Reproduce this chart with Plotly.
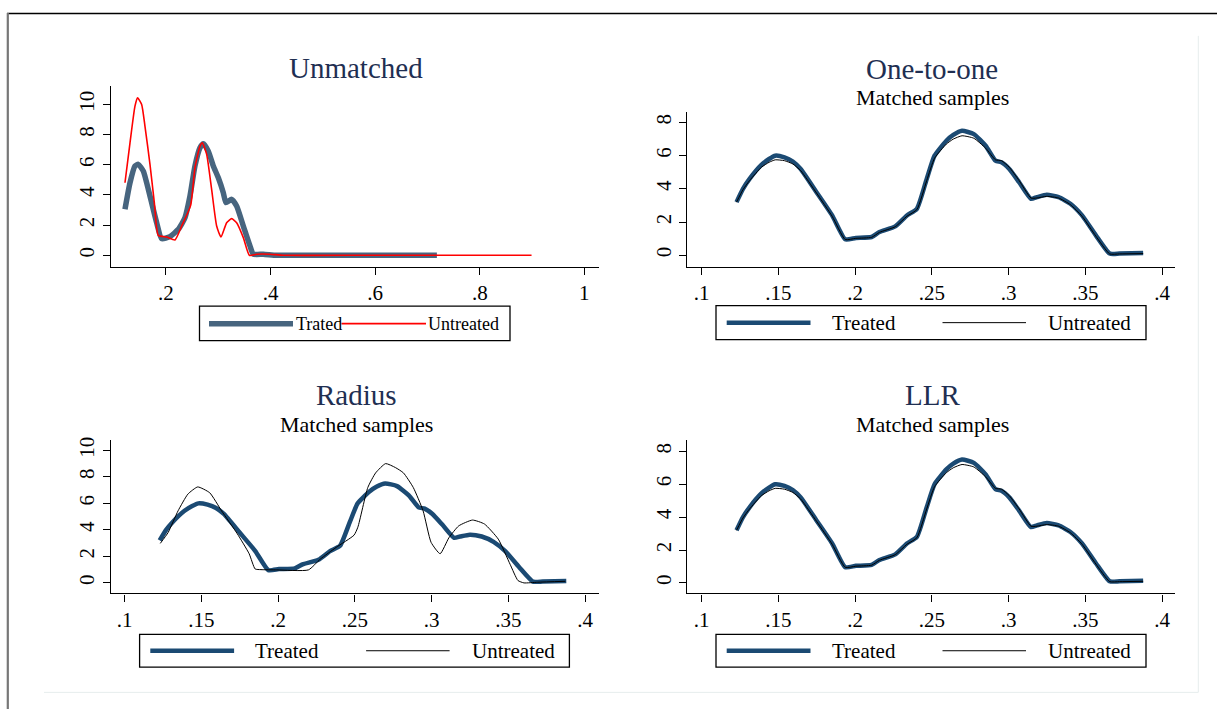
import plotly.graph_objects as go

W, H = 1217, 709

# ---------------- data ----------------
# Unmatched panel
unm_treated_x = [0.1216, 0.1312, 0.1407, 0.1471, 0.1567, 0.1694, 0.1822, 0.1917, 0.2076, 0.2236,
                 0.2363, 0.2459, 0.2554, 0.2650, 0.2714, 0.2809, 0.2905, 0.3001, 0.3096, 0.3147,
                 0.3256, 0.3351, 0.3479, 0.3606, 0.3670, 0.3861, 0.4116, 0.5000, 0.6000, 0.7180]
unm_treated_y = [3.05, 4.81, 5.92, 6.03, 5.58, 3.93, 2.16, 1.10, 1.24, 1.72,
                 2.49, 3.93, 5.92, 7.13, 7.40, 6.91, 5.92, 5.14, 4.15, 3.49,
                 3.71, 3.27, 1.94, 0.62, 0.07, 0.07, 0.0, 0.0, 0.0, 0.0]
unm_untreated_x = [0.1216, 0.1312, 0.1407, 0.1458, 0.1535, 0.1598, 0.1694, 0.1777, 0.1853, 0.2013,
                   0.2172, 0.2300, 0.2472, 0.2554, 0.2650, 0.2695, 0.2778, 0.2873, 0.2969, 0.3052,
                   0.3160, 0.3256, 0.3351, 0.3479, 0.3594, 0.3734, 0.3989, 0.4243, 0.6000, 0.8990]
unm_untreated_y = [4.81, 7.46, 9.89, 10.44, 10.0, 8.57, 6.03, 3.49, 1.32, 1.21,
                   1.02, 1.94, 3.31, 5.81, 7.24, 7.46, 6.69, 4.37, 1.94, 1.21,
                   2.16, 2.43, 2.16, 1.17, 0.0, 0.07, 0.07, 0.0, 0.0, 0.0]

# Matched samples: treated density (same in the three matched panels)
treated_x = [0.1228, 0.1270, 0.1313, 0.1390, 0.1440, 0.1480, 0.1540, 0.1595, 0.1646, 0.1749,
             0.1851, 0.1936, 0.2005, 0.2108, 0.2159, 0.2262, 0.2338, 0.2403, 0.2467, 0.2518,
             0.2595, 0.2640, 0.2697, 0.2774, 0.2851, 0.2915, 0.2954, 0.3005, 0.3069, 0.3146,
             0.3185, 0.3249, 0.3326, 0.3403, 0.3479, 0.3569, 0.3659, 0.3723, 0.3877]
treated_y = [3.20, 4.00, 4.60, 5.44, 5.80, 6.00, 5.90, 5.65, 5.20, 3.80,
             2.40, 0.96, 1.04, 1.10, 1.40, 1.74, 2.40, 2.80, 4.60, 6.00,
             6.90, 7.25, 7.50, 7.30, 6.60, 5.70, 5.60, 5.20, 4.40, 3.40,
             3.50, 3.64, 3.50, 3.10, 2.40, 1.20, 0.10, 0.10, 0.14]

# One-to-one untreated
nn_untreated_x = treated_x
nn_untreated_y = [3.20, 3.95, 4.50, 5.30, 5.60, 5.75, 5.70, 5.50, 5.10, 3.75,
                  2.35, 0.95, 1.02, 1.08, 1.38, 1.72, 2.35, 2.75, 4.50, 5.85,
                  6.70, 7.00, 7.20, 7.05, 6.45, 5.75, 5.70, 5.30, 4.50, 3.45,
                  3.45, 3.55, 3.45, 3.05, 2.35, 1.15, 0.08, 0.08, 0.10]

# Radius untreated
radius_untreated_x = [0.1232, 0.1283, 0.1348, 0.1412, 0.1476, 0.1554, 0.1631, 0.1734, 0.1811, 0.1850,
                      0.1888, 0.1991, 0.2197, 0.2275, 0.2378, 0.2494, 0.2519, 0.2584, 0.2635, 0.2700,
                      0.2764, 0.2816, 0.2880, 0.2944, 0.2996, 0.3055, 0.3112, 0.3176, 0.3266, 0.3344,
                      0.3434, 0.3511, 0.3562, 0.3601, 0.3691, 0.3871]
radius_untreated_y = [2.98, 3.80, 5.44, 6.70, 7.24, 6.80, 5.44, 3.70, 2.20, 1.05,
                      1.00, 0.98, 0.98, 1.80, 2.68, 3.60, 4.20, 7.20, 8.30, 9.00,
                      8.70, 8.30, 7.20, 5.44, 3.06, 2.20, 3.40, 4.30, 4.74, 4.44,
                      3.30, 1.40, 0.18, 0.00, 0.05, 0.12]

# LLR untreated
llr_untreated_x = treated_x
llr_untreated_y = [3.20, 3.95, 4.50, 5.30, 5.60, 5.75, 5.70, 5.50, 5.10, 3.75,
                   2.35, 0.95, 1.02, 1.08, 1.38, 1.72, 2.35, 2.75, 4.50, 5.85,
                   6.70, 7.00, 7.20, 7.05, 6.45, 5.75, 5.70, 5.30, 4.50, 3.45,
                   3.45, 3.55, 3.45, 3.05, 2.35, 1.15, 0.08, 0.08, 0.10]

panel_titles = ["Unmatched", "One-to-one", "Radius", "LLR"]
subtitle = "Matched samples"
x_ticks_unm = [0.2, 0.4, 0.6, 0.8, 1.0]
x_ticklabels_unm = [".2", ".4", ".6", ".8", "1"]
x_ticks_m = [0.1, 0.15, 0.2, 0.25, 0.3, 0.35, 0.4]
x_ticklabels_m = [".1", ".15", ".2", ".25", ".3", ".35", ".4"]
y_ticks_10 = [0, 2, 4, 6, 8, 10]
y_ticks_8 = [0, 2, 4, 6, 8]

# ---------------- styling ----------------
FONT = "Liberation Serif, Times New Roman, serif"
NAVY = "#1b4a73"
SLATE = "#47657f"
TITLE_COL = "#1f2f52"
SMOOTH = 0.5


def fx(p):
    return p / W


def fy(p):
    return 1 - p / H


fig = go.Figure()


def line(xs, ys, name, color, width, ax):
    fig.add_trace(go.Scatter(x=xs, y=ys, mode="lines", name=name,
                             line=dict(color=color, width=width, shape="spline", smoothing=SMOOTH),
                             xaxis="x" + ax, yaxis="y" + ax))


# panel 1
line(unm_treated_x, unm_treated_y, "Trated", SLATE, 5.5, "")
line(unm_untreated_x, unm_untreated_y, "Untreated", "#ff0000", 1.6, "")
# panel 2
line(treated_x, treated_y, "Treated", NAVY, 4.5, "2")
line(nn_untreated_x, nn_untreated_y, "Untreated", "black", 1, "2")
# panel 3
line(treated_x, treated_y, "Treated", NAVY, 4.5, "3")
line(radius_untreated_x, radius_untreated_y, "Untreated", "black", 1, "3")
# panel 4
line(treated_x, treated_y, "Treated", NAVY, 4.5, "4")
line(llr_untreated_x, llr_untreated_y, "Untreated", "black", 1, "4")

ax_common = dict(showline=True, linecolor="black", linewidth=1.2, ticks="outside", ticklen=7,
                 tickwidth=1.1, tickcolor="black", showgrid=False, zeroline=False,
                 tickfont=dict(family=FONT, size=21, color="black"), fixedrange=True)

L1, R1 = 110.7, 599.0
L2, R2 = 687.4, 1175.4
T1, B1 = 83.3, 265.0
T2, B2 = 109.0, 265.0
T3, B3 = 439.0, 593.0

fig.update_layout(
    width=W, height=H, autosize=False,
    margin=dict(l=0, r=0, t=0, b=0),
    paper_bgcolor="white", plot_bgcolor="white",
    showlegend=False,
    xaxis=dict(domain=[fx(L1), fx(R1)], anchor="y", range=[0.0943, 1.028],
               tickvals=x_ticks_unm, ticktext=x_ticklabels_unm, **ax_common),
    yaxis=dict(domain=[fy(B1), fy(T1)], anchor="x", range=[-0.77, 11.23],
               tickvals=y_ticks_10, ticktext=[str(v) for v in y_ticks_10], tickangle=-90, **ax_common),
    xaxis2=dict(domain=[fx(L2), fx(R2)], anchor="y2", range=[0.0908, 0.4087],
                tickvals=x_ticks_m, ticktext=x_ticklabels_m, **ax_common),
    yaxis2=dict(domain=[fy(B2), fy(T2)], anchor="x2", range=[-0.70, 8.66],
                tickvals=y_ticks_8, ticktext=[str(v) for v in y_ticks_8], tickangle=-90, **ax_common),
    xaxis3=dict(domain=[fx(L1), fx(R1)], anchor="y3", range=[0.0909, 0.409],
                tickvals=x_ticks_m, ticktext=x_ticklabels_m, **ax_common),
    yaxis3=dict(domain=[fy(B3), fy(T3)], anchor="x3", range=[-0.80, 10.77],
                tickvals=y_ticks_10, ticktext=[str(v) for v in y_ticks_10], tickangle=-90, **ax_common),
    xaxis4=dict(domain=[fx(L2), fx(R2)], anchor="y4", range=[0.0908, 0.4087],
                tickvals=x_ticks_m, ticktext=x_ticklabels_m, **ax_common),
    yaxis4=dict(domain=[fy(B3), fy(T3)], anchor="x4", range=[-0.64, 8.68],
                tickvals=y_ticks_8, ticktext=[str(v) for v in y_ticks_8], tickangle=-90, **ax_common),
)

annotations = []
shapes = []


def text(x, y, s, size, color="black", xanchor="center"):
    annotations.append(dict(x=fx(x), y=fy(y), xref="paper", yref="paper", text=s, showarrow=False,
                            xanchor=xanchor, yanchor="middle",
                            font=dict(family=FONT, size=size, color=color)))


def hline(x0, x1, y, color, width):
    shapes.append(dict(type="line", xref="paper", yref="paper", x0=fx(x0), x1=fx(x1), y0=fy(y), y1=fy(y),
                       line=dict(color=color, width=width)))


def rect(x0, x1, y0, y1):
    shapes.append(dict(type="rect", xref="paper", yref="paper", x0=fx(x0), x1=fx(x1), y0=fy(y0), y1=fy(y1),
                       line=dict(color="black", width=1.3), fillcolor="rgba(0,0,0,0)"))


# titles
text(356, 65, panel_titles[0], 29, TITLE_COL)
text(932, 66, panel_titles[1], 29, TITLE_COL)
text(932, 95, subtitle, 22)
text(356, 394, panel_titles[2], 29, TITLE_COL)
text(356, 423, subtitle, 22)
text(932, 394, panel_titles[3], 29, TITLE_COL)
text(932, 423, subtitle, 22)

# legend panel 1
rect(199.5, 510, 304.5, 339)
hline(209, 293, 322, SLATE, 5.5)
text(293.5, 322, "Trated", 18, xanchor="left")
hline(341.5, 426, 322, "#ff0000", 1.6)
text(426, 322, "Untreated", 18, xanchor="left")

# legends panels 2-4
for (bx0, bx1, by0, by1) in [(716, 1146, 304, 338), (139.6, 569.4, 634, 667), (716, 1146, 634, 667)]:
    cy = (by0 + by1) / 2
    rect(bx0, bx1, by0, by1)
    hline(bx0 + 10.7, bx0 + 94.5, cy, NAVY, 4.5)
    text(bx0 + 113.5, cy, "Treated", 21, xanchor="left")
    hline(bx0 + 226.5, bx0 + 310, cy, "black", 1)
    text(bx0 + 330, cy, "Untreated", 21, xanchor="left")

# outer frame
hline(7, 1217, 10.5, "black", 1.4)
shapes.append(dict(type="line", xref="paper", yref="paper", x0=fx(7.8), x1=fx(7.8), y0=fy(10), y1=fy(709),
                   line=dict(color="#777777", width=2.2)))
shapes.append(dict(type="line", xref="paper", yref="paper", x0=fx(1198.3), x1=fx(1198.3), y0=fy(33), y1=fy(692.3),
                   line=dict(color="#e6eded", width=1)))
hline(44, 1198.3, 692.3, "#e6eded", 1)

fig.update_layout(annotations=annotations, shapes=shapes)

fig.write_html("out.html", config={"displayModeBar": False},
               post_script="document.body.style.margin='0';document.body.style.padding='0';")
